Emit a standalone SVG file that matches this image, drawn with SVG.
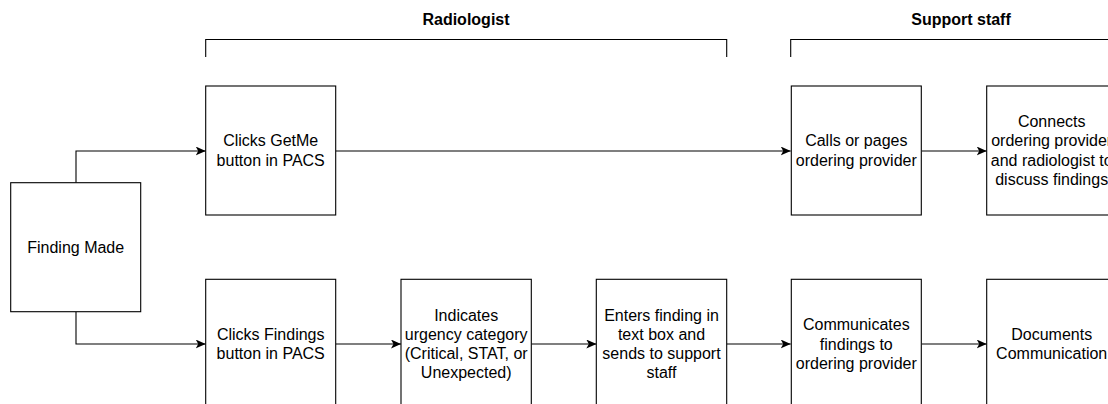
<svg xmlns="http://www.w3.org/2000/svg" width="1108" height="404" viewBox="0 0 1108 404">
<style>
.box{fill:#fff;stroke:#000;stroke-width:1.1}
.lbl{font-family:"Liberation Sans",Arial,Helvetica,sans-serif;font-size:16px;fill:#000;text-anchor:middle}
.hdr{font-family:"Liberation Sans",Arial,Helvetica,sans-serif;font-size:16px;font-weight:bold;fill:#000;text-anchor:middle}
.edge{fill:none;stroke:#000;stroke-width:1.1;marker-end:url(#arr)}
.brk{fill:none;stroke:#000;stroke-width:1.1}
</style>
<defs>
<marker id="arr" viewBox="0 0 10 9" refX="10" refY="4.5" markerWidth="10" markerHeight="9" markerUnits="userSpaceOnUse" orient="auto">
<path d="M0,0 L10,4.5 L0,9 L2.5,4.5 Z" fill="#000"/>
</marker>
</defs>
<g id="header-radiologist">
<text class="hdr" x="466" y="25">Radiologist</text>
<path class="brk" d="M205.7,57 V39.5 H726.7 V57"/>
</g>
<g id="header-support">
<text class="hdr" x="961" y="25">Support staff</text>
<path class="brk" d="M790.7,57 V39.5 H1130"/>
</g>
<g id="connectors">
<path class="edge" d="M76,182.7 V151 H205.7"/>
<path class="edge" d="M76,311.7 V344 H205.7"/>
<path class="edge" d="M335.7,151 H790.7"/>
<path class="edge" d="M921.7,151 H986.7"/>
<path class="edge" d="M335.7,344 H401"/>
<path class="edge" d="M531.3,344 H596.3"/>
<path class="edge" d="M726.7,344 H790.7"/>
<path class="edge" d="M921.7,344 H986.7"/>
</g>
<g id="finding-made">
<rect class="box" x="10.7" y="182.7" width="130" height="129"/>
<text class="lbl" x="75.7" y="252.7">Finding Made</text>
</g>
<g id="clicks-getme">
<rect class="box" x="205.7" y="86" width="130" height="129"/>
<text class="lbl" x="270.7" y="146.4">Clicks GetMe</text>
<text class="lbl" x="270.7" y="165.6">button in PACS</text>
</g>
<g id="calls-pages">
<rect class="box" x="791.3" y="86" width="130" height="129"/>
<text class="lbl" x="856.3" y="146.4">Calls or pages</text>
<text class="lbl" x="856.3" y="165.6">ordering provider</text>
</g>
<g id="connects">
<rect class="box" x="986.7" y="86" width="130" height="129"/>
<text class="lbl" x="1051.7" y="127.2">Connects</text>
<text class="lbl" x="1051.7" y="146.4">ordering provider</text>
<text class="lbl" x="1051.7" y="165.6">and radiologist to</text>
<text class="lbl" x="1051.7" y="184.8">discuss findings</text>
</g>
<g id="clicks-findings">
<rect class="box" x="205.7" y="279.3" width="130" height="129.4"/>
<text class="lbl" x="270.7" y="339.9">Clicks Findings</text>
<text class="lbl" x="270.7" y="359.1">button in PACS</text>
</g>
<g id="indicates-urgency">
<rect class="box" x="401" y="279.3" width="130.3" height="129.4"/>
<text class="lbl" x="466.2" y="320.7">Indicates</text>
<text class="lbl" x="466.2" y="339.9">urgency category</text>
<text class="lbl" x="466.2" y="359.1">(Critical, STAT, or</text>
<text class="lbl" x="466.2" y="378.3">Unexpected)</text>
</g>
<g id="enters-finding">
<rect class="box" x="596.3" y="279.3" width="130.4" height="129.4"/>
<text class="lbl" x="661.5" y="320.7">Enters finding in</text>
<text class="lbl" x="661.5" y="339.9">text box and</text>
<text class="lbl" x="661.5" y="359.1">sends to support</text>
<text class="lbl" x="661.5" y="378.3">staff</text>
</g>
<g id="communicates">
<rect class="box" x="791.3" y="279.3" width="130" height="129.4"/>
<text class="lbl" x="856.3" y="330.3">Communicates</text>
<text class="lbl" x="856.3" y="349.5">findings to</text>
<text class="lbl" x="856.3" y="368.7">ordering provider</text>
</g>
<g id="documents">
<rect class="box" x="986.7" y="279.3" width="130" height="129.4"/>
<text class="lbl" x="1051.7" y="339.9">Documents</text>
<text class="lbl" x="1051.7" y="359.1">Communication</text>
</g>
</svg>
